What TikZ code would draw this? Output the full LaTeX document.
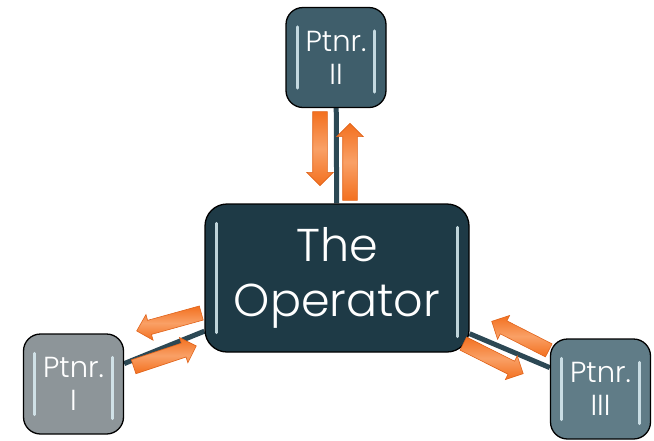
\documentclass[tikz,border=0pt]{standalone}
\usepackage{fontspec}
\setmainfont{Poppins Light}
\usetikzlibrary{shapes.arrows,backgrounds,calc}
\definecolor{opfill}{HTML}{1E3A46}
\definecolor{ptwo}{HTML}{3F5E6B}
\definecolor{pone}{HTML}{8D9599}
\definecolor{pthree}{HTML}{607C87}
\definecolor{linkc}{HTML}{2C4854}
\definecolor{orfill}{HTML}{F3701F}
\definecolor{orlight}{HTML}{F9A066}
\definecolor{ordraw}{HTML}{E0631A}
\definecolor{glint}{HTML}{DCEFF5}
\begin{document}
\begin{tikzpicture}[x=1pt,y=-1pt,
  box/.style={draw=black, line width=1.3pt, text=white,
    align=center, inner sep=0pt},
  smallbox/.style={box, rounded corners=17pt, minimum width=100pt, minimum height=100pt,
    font=\fontsize{29}{33}\selectfont},
  link/.style={draw=linkc, line width=5pt},
  barr/.style={single arrow, draw=ordraw, line width=0.6pt,
    top color=orfill, bottom color=orfill, middle color=orlight,
    inner sep=0pt, inner ysep=7pt, single arrow head extend=6pt,
    minimum width=0pt},
  glintbar/.style={draw=glint, line width=3pt, line cap=round, opacity=0.85}]
\useasboundingbox (0,0) rectangle (654,440);

\node[box, rounded corners=22pt, fill=opfill, minimum width=264pt, minimum height=148pt,
  font=\fontsize{46}{55}\selectfont] (op) at (337,278) {The\\Operator};
\node[smallbox, fill=ptwo] (p2) at (336,57.5) {Ptnr.\\II};
\node[smallbox, fill=pone] (p1) at (73.5,384) {Ptnr.\\I};
\node[smallbox, fill=pthree] (p3) at (600.5,389) {Ptnr.\\III};

\begin{scope}[on background layer]
  \draw[link] (p2) -- (op);
  \draw[link] (p1) -- (op);
  \draw[link] (p3) -- (op);
\end{scope}

% glints
\foreach \n/\d in {op/12, p2/12, p1/12, p3/12}{
  \draw[glintbar] ($(\n.north west)+(\d,20)$) -- ($(\n.south west)+(\d,-20)$);
  \draw[glintbar] ($(\n.north east)+(-\d,24)$) -- ($(\n.south east)+(-\d,-16)$);
}

% orange block arrows
\node[barr, minimum height=74pt, rotate=-90] (a1) at (320,145) {};
\node[barr, minimum height=77pt, rotate=90] (a2) at (350,165.5) {};
\node[barr, minimum height=67pt, rotate=195.5] (a3) at (172.5,321) {};
\node[barr, minimum height=66pt, rotate=18.4] (a4) at (161.5,357.5) {};
\node[barr, minimum height=64pt, rotate=153] (a5) at (523.5,337.5) {};
\node[barr, minimum height=67pt, rotate=-26.6] (a6) at (490,357) {};
\end{tikzpicture}
\end{document}
